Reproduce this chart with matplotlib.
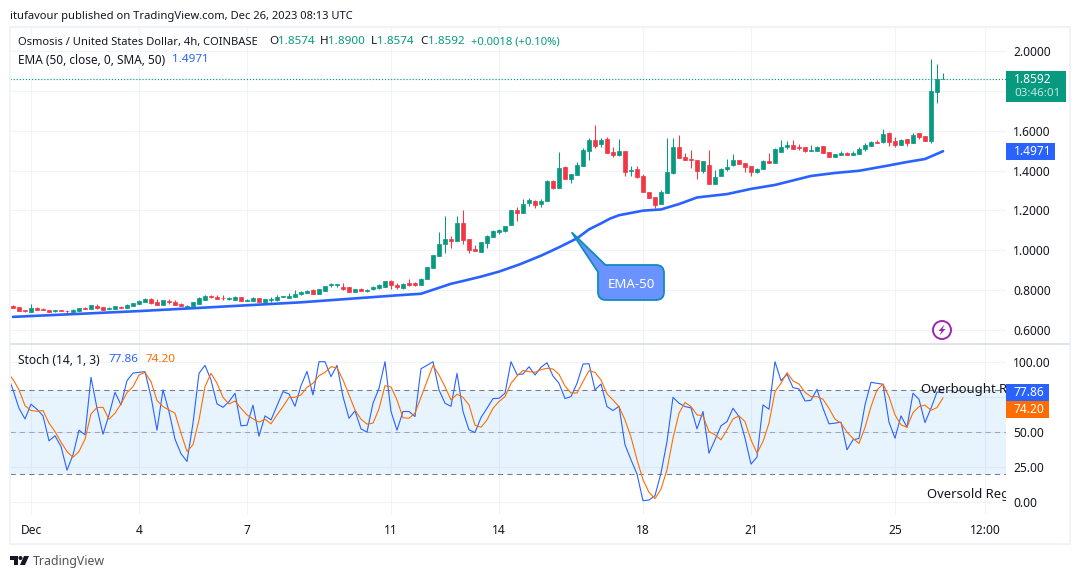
"""
Osmosis / USD 4h chart with EMA-50 and stochastic panes, TradingView look.
Candle and oscillator values are read off the screenshot.
"""
import matplotlib

matplotlib.use("Agg")
import matplotlib.pyplot as plt
from matplotlib.patches import Circle, PathPatch, Polygon, Rectangle
from matplotlib.path import Path
from matplotlib.transforms import Affine2D

W, H = 1080, 579
GREEN = "#089981"
RED = "#f23645"
BLUE = "#2962ff"
ORANGE = "#ff6d00"
GRID = "#f0f3fa"
TEXT = "#131722"
FONT = "Noto Sans"

first_bar = -3
opens = [
    .722, .714, .700, .690, .710, .707, .700, .695, .700, .697, .692, .695, .712, .705, .722, .715,
    .705, .707, .717, .712, .722, .732, .742, .755, .740, .727, .745, .742, .732, .717, .722, .732,
    .752, .772, .767, .762, .757, .752, .765, .747, .747, .759, .742, .752, .752, .765, .762, .767,
    .779, .787, .801, .782, .797, .826, .826, .817, .816, .792, .804, .797, .804, .812, .817, .847,
    .827, .811, .837, .836, .826, .856, .913, .973, 1.031, 1.058, 1.047, 1.137, 1.057, 1.006, .991,
    1.036, 1.067, 1.092, 1.097, 1.127, 1.202, 1.187, 1.237, 1.247, 1.232, 1.247, 1.348, 1.313,
    1.418, 1.358, 1.378, 1.423, 1.498, 1.553, 1.533, 1.558, 1.493, 1.478, 1.498, 1.400, 1.408,
    1.373, 1.292, 1.267, 1.232, 1.287, 1.388, 1.518, 1.468, 1.458, 1.453, 1.398, 1.428, 1.332,
    1.372, 1.408, 1.428, 1.453, 1.438, 1.423, 1.392, 1.408, 1.448, 1.438, 1.493, 1.518, 1.528,
    1.518, 1.518, 1.498, 1.498, 1.523, 1.493, 1.468, 1.478, 1.488, 1.478, 1.483, 1.508, 1.523,
    1.543, 1.543, 1.588, 1.548, 1.528, 1.558, 1.538, 1.588, 1.573, 1.548, 1.794, 1.8574,
]
highs = [
    .725, .714, .700, .730, .715, .710, .700, .702, .700, .702, .704, .710, .715, .725, .730, .715,
    .714, .720, .720, .730, .737, .750, .760, .759, .755, .749, .755, .750, .735, .725, .740, .765,
    .776, .777, .777, .776, .765, .770, .765, .755, .765, .759, .755, .765, .774, .770, .784, .801,
    .796, .801, .804, .806, .821, .837, .831, .836, .816, .806, .809, .807, .821, .829, .846, .851,
    .837, .836, .856, .841, .861, .916, .976, 1.092, 1.172, 1.070, 1.172, 1.202, 1.057, 1.026,
    1.041, 1.077, 1.102, 1.107, 1.122, 1.202, 1.217, 1.257, 1.262, 1.252, 1.257, 1.353, 1.353,
    1.493, 1.423, 1.383, 1.443, 1.513, 1.563, 1.629, 1.563, 1.568, 1.518, 1.558, 1.498, 1.423,
    1.423, 1.383, 1.292, 1.267, 1.302, 1.563, 1.563, 1.579, 1.488, 1.503, 1.453, 1.448, 1.503,
    1.403, 1.413, 1.458, 1.483, 1.453, 1.438, 1.423, 1.413, 1.453, 1.488, 1.513, 1.553, 1.548,
    1.553, 1.533, 1.518, 1.528, 1.523, 1.523, 1.493, 1.483, 1.498, 1.493, 1.498, 1.518, 1.538,
    1.546, 1.553, 1.608, 1.593, 1.568, 1.558, 1.558, 1.588, 1.588, 1.573, 1.960, 1.935, 1.8900,
]
lows = [
    .710, .697, .692, .690, .699, .700, .690, .692, .697, .685, .690, .695, .705, .705, .705, .700,
    .704, .707, .710, .710, .722, .730, .740, .732, .725, .727, .730, .724, .720, .717, .722, .729,
    .750, .760, .755, .750, .750, .750, .747, .745, .745, .742, .735, .742, .745, .765, .760, .765,
    .776, .784, .781, .782, .797, .814, .814, .801, .792, .792, .794, .792, .801, .807, .817, .807,
    .806, .806, .819, .822, .826, .856, .913, .973, .986, 1.011, 1.047, 1.031, .986, .996, .991,
    1.011, 1.065, 1.082, 1.092, 1.127, 1.147, 1.187, 1.222, 1.212, 1.217, 1.247, 1.307, 1.313,
    1.358, 1.338, 1.378, 1.423, 1.453, 1.513, 1.518, 1.488, 1.468, 1.473, 1.373, 1.373, 1.363,
    1.292, 1.262, 1.212, 1.232, 1.287, 1.383, 1.463, 1.453, 1.413, 1.358, 1.387, 1.332, 1.332,
    1.372, 1.398, 1.423, 1.433, 1.392, 1.372, 1.386, 1.408, 1.438, 1.438, 1.493, 1.508, 1.508,
    1.503, 1.493, 1.498, 1.498, 1.488, 1.468, 1.468, 1.478, 1.478, 1.478, 1.483, 1.498, 1.523,
    1.538, 1.538, 1.523, 1.518, 1.528, 1.523, 1.538, 1.558, 1.548, 1.538, 1.739, 1.8574,
]
closes = [
    .712, .697, .695, .710, .700, .702, .690, .700, .697, .694, .700, .710, .707, .725, .712, .700,
    .710, .720, .712, .727, .737, .747, .757, .737, .727, .749, .742, .727, .722, .722, .740, .760,
    .772, .767, .757, .759, .760, .767, .747, .752, .762, .742, .755, .755, .765, .770, .770, .782,
    .792, .797, .782, .806, .821, .829, .829, .806, .792, .806, .797, .802, .817, .826, .846, .824,
    .814, .832, .827, .826, .856, .916, .976, 1.031, 1.057, 1.047, 1.137, 1.052, 1.001, .998, 1.041,
    1.072, 1.097, 1.102, 1.122, 1.202, 1.187, 1.232, 1.252, 1.227, 1.247, 1.348, 1.313, 1.413,
    1.358, 1.383, 1.428, 1.503, 1.553, 1.523, 1.553, 1.488, 1.478, 1.498, 1.393, 1.403, 1.368,
    1.292, 1.262, 1.227, 1.292, 1.393, 1.518, 1.463, 1.453, 1.455, 1.398, 1.448, 1.332, 1.367,
    1.408, 1.418, 1.453, 1.433, 1.418, 1.392, 1.408, 1.448, 1.438, 1.508, 1.518, 1.528, 1.508,
    1.513, 1.498, 1.503, 1.518, 1.488, 1.468, 1.483, 1.488, 1.478, 1.488, 1.508, 1.528, 1.543,
    1.538, 1.583, 1.543, 1.528, 1.553, 1.538, 1.578, 1.568, 1.548, 1.799, 1.858, 1.8592,
]

ema_bars = [-3, 18, 28, 45, 61, 65, 68, 70, 72, 75, 78, 81.5, 85, 88, 91, 93, 95, 96.5, 98, 102, 105,
            108, 111, 113, 116, 120, 124, 130, 134, 138, 143, 146, 149, 152]
ema_vals = [.666, .695, .711, .739, .774, .782, .812, .832, .846, .868, .893, .930, .973, 1.015, 1.060,
            1.105, 1.135, 1.159, 1.176, 1.199, 1.205, 1.232, 1.265, 1.272, 1.282, 1.308, 1.328, 1.373,
            1.388, 1.399, 1.426, 1.443, 1.458, 1.4971]

stoch_first_bar = -4
stoch_k = [
    91.7, 79.9, 66.8, 59.2, 69.7, 66.1, 61.4, 43.6, 47.2, 39.6, 22.7, 33.6, 51.2, 47.9, 88.9, 66.8,
    48.3, 62.1, 78.2, 69.2, 86.5, 91.9, 92.4, 92.9, 75.1, 51.2, 79.9, 64.5, 44.8, 34.4, 28.9, 56.2,
    91.7, 97.4, 87.0, 69.9, 67.5, 71.6, 77.5, 54.3, 54.7, 69.0, 46.9, 61.4, 58.5, 68.7, 78.7, 77.0,
    68.2, 82.9, 93.1, 76.3, 100.0, 100.0, 89.3, 97.4, 75.1, 59.7, 64.9, 52.1, 49.8, 70.4, 81.0,
    100.0, 64.5, 51.2, 64.5, 64.5, 60.9, 95.0, 97.4, 100.0, 79.9, 70.4, 68.2, 91.7, 64.5, 51.4, 49.5,
    60.2, 66.8, 73.7, 73.9, 77.5, 100.0, 90.8, 91.2, 96.4, 90.5, 96.0, 99.3, 89.8, 84.6, 73.7, 75.1,
    84.6, 98.3, 98.6, 79.9, 84.1, 68.0, 65.2, 68.2, 40.8, 30.1, 19.9, 0.9, 1.4, 4.5, 20.6, 43.1, 74.6,
    70.4, 68.0, 67.1, 52.1, 64.5, 34.8, 44.3, 54.3, 57.3, 66.8, 60.9, 45.5, 27.0, 32.0, 69.2, 66.1,
    100.0, 86.5, 91.0, 81.5, 80.6, 72.0, 72.5, 80.3, 66.8, 55.7, 56.2, 56.9, 37.2, 44.3, 45.3, 69.2,
    85.3, 84.6, 83.9, 56.9, 45.5, 61.4, 53.3, 77.5, 73.2, 56.6, 66.8, 78.4, 77.86,
]
stoch_d = [
    92.9, 87.4, 79.9, 68.7, 65.2, 64.7, 65.2, 56.2, 50.2, 42.7, 36.0, 31.8, 36.0, 44.8, 62.8, 67.3,
    67.5, 59.0, 63.3, 69.9, 78.0, 82.2, 90.5, 92.4, 85.8, 72.3, 68.0, 65.6, 63.3, 49.1, 36.0, 40.8,
    58.5, 82.2, 91.7, 84.6, 74.6, 69.9, 72.0, 66.8, 62.1, 59.2, 56.9, 59.0, 55.7, 62.1, 68.0, 74.6,
    74.6, 76.3, 81.8, 84.6, 90.0, 92.4, 96.4, 95.7, 87.0, 76.3, 65.6, 59.0, 55.5, 56.2, 66.4, 82.9,
    82.0, 72.7, 60.0, 59.7, 63.3, 74.6, 85.8, 97.4, 90.5, 82.2, 72.7, 76.8, 74.6, 69.2, 54.7, 53.3,
    58.5, 66.8, 71.6, 75.1, 84.6, 89.8, 93.8, 92.9, 92.4, 94.3, 95.3, 94.8, 91.0, 82.7, 77.7, 77.7,
    85.8, 93.6, 92.4, 87.0, 77.0, 72.7, 68.0, 58.5, 46.2, 30.1, 15.9, 6.9, 2.4, 9.2, 23.0, 45.5, 63.3,
    70.9, 68.0, 62.1, 61.4, 50.2, 47.9, 44.3, 51.4, 59.2, 61.4, 57.3, 44.3, 34.8, 43.1, 56.2, 78.7,
    84.6, 92.2, 86.3, 84.1, 78.2, 75.1, 75.1, 73.2, 66.8, 59.0, 56.2, 49.8, 45.3, 41.7, 53.1, 68.0,
    79.9, 84.1, 75.1, 62.1, 55.0, 53.3, 63.7, 68.0, 69.0, 65.4, 67.3, 74.20,
]

price_ticks = [0.6, 0.8, 1.0, 1.2, 1.4, 1.6, 1.8, 2.0]
price_labels = ["0.6000", "0.8000", "1.0000", "1.2000", "1.4000", "1.6000", "", "2.0000"]
stoch_ticks = [0, 25, 50, 75, 100]
stoch_labels = ["0.00", "25.00", "50.00", "", "100.00"]
time_ticks = [0, 18, 36, 60, 78, 102, 120, 144, 159]
time_labels = ["Dec", "4", "7", "11", "14", "18", "21", "25", "12:00"]

plt.rcParams["font.family"] = [FONT, "DejaVu Sans"]
fig = plt.figure(figsize=(W / 100, H / 100), dpi=100, facecolor="white")
# screenshot pixel space, y down, for the chrome around the panes
px = Affine2D().scale(1, -1).translate(0, H)


def pane(left, top, right, bottom):
    return fig.add_axes([left / W, 1 - bottom / H, (right - left) / W, (bottom - top) / H])


def label(x, y, s, color=TEXT, size=8.6, **kw):
    kw.setdefault("va", "center")
    fig.text(x, y, s, color=color, fontsize=size, transform=px, **kw)


ax = pane(10, 28, 1006, 343)
ax2 = pane(10, 345, 1006, 515)

for a in (ax, ax2):
    a.set_xlim(-3.5, 162.5)
    a.set_xticks(time_ticks)
    a.grid(True, color=GRID, lw=0.75)
    a.set_axisbelow(True)
    a.yaxis.tick_right()
    a.tick_params(length=0, labelsize=8.6, labelcolor=TEXT)
    for s in a.spines.values():
        s.set_visible(False)

# price pane
ax.set_ylim(0.5349, 2.1154)
ax.set_yticks(price_ticks, price_labels)
ax.tick_params(labelbottom=False)
ax.tick_params(axis="y", pad=5)

bars = list(range(first_bar, first_bar + len(opens)))
colors = [GREEN if c >= o else RED for o, c in zip(opens, closes)]
ax.vlines(bars, lows, highs, colors=colors, lw=0.75, zorder=2)
ax.bar(bars, [c - o for o, c in zip(opens, closes)], bottom=opens, width=0.72, color=colors,
       edgecolor=colors, lw=0.5, zorder=3)
ax.plot(ema_bars, ema_vals, color=BLUE, lw=1.9, zorder=4, solid_capstyle="round", solid_joinstyle="round")
ax.axhline(closes[-1], color=GREEN, lw=0.85, ls=(0, (1, 1.6)), zorder=2)

# stochastic pane
ax2.set_ylim(-9.27, 111.9)
ax2.set_yticks(stoch_ticks, stoch_labels)
ax2.set_xticklabels(time_labels)
ax2.tick_params(axis="y", pad=5)
ax2.tick_params(axis="x", pad=6.8)
ax2.axhspan(20, 80, color="#2196f3", alpha=0.1, lw=0, zorder=1)
for level, alpha in ((80, 1), (50, 0.6), (20, 1)):
    ax2.axhline(level, color="#787b86", lw=0.75, ls=(0, (5, 4)), alpha=alpha, zorder=2)
k_bars = list(range(stoch_first_bar, stoch_first_bar + len(stoch_k)))
ax2.plot(k_bars, stoch_k, color=BLUE, lw=0.8, zorder=3)
ax2.plot(k_bars, stoch_d, color=ORANGE, lw=0.8, zorder=4)
# both notes run into the price scale in the screenshot, so only this much shows
ax2.text(148.4, 80, "Overbought R", color=TEXT, fontsize=9.4, va="center", clip_on=True, zorder=5)
ax2.text(149.4, 5.5, "Oversold Reg", color=TEXT, fontsize=9.4, va="center", clip_on=True, zorder=5)

# outer frame and pane divider
fig.add_artist(Rectangle((10, 27), 1060, 517, transform=px, fill=False, ec=GRID, lw=1.4))
fig.add_artist(Rectangle((10, 343), 1060, 1.5, transform=px, fc="#e0e3eb", lw=0))

# header and legend text
label(10, 16, "itufavour published on TradingView.com, Dec 26, 2023 08:13 UTC", size=8.05)
label(18, 42, "Osmosis / United States Dollar, 4h, COINBASE", size=8.05)
for x, s, c in [(269, "O", TEXT), (278, "1.8574", GREEN), (320, "H", TEXT), (328, "1.8900", GREEN),
                (371, "L", TEXT), (377, "1.8574", GREEN), (420, "C", TEXT), (428, "1.8592", GREEN)]:
    label(x, 42, s, color=c, size=8.4)
label(471, 42, "+0.0018 (+0.10%)", color=GREEN, size=8.1)
label(18, 60, "EMA (50, close, 0, SMA, 50)", size=8.5)
label(172, 60, "1.4971", color=BLUE, size=8.4)
label(18, 360, "Stoch (14, 1, 3)")
label(108.5, 360, "77.86", color=BLUE, size=8.4)
label(145, 360, "74.20", color=ORANGE, size=8.4)

# price scale tags
fig.add_artist(Rectangle((1006, 71), 60, 31, transform=px, fc=GREEN, lw=0))
label(1014, 79.5, "1.8592", color="white", fontweight="medium")
label(1014, 93.5, "03:46:01", color="#c4e8df", size=8.3)
fig.add_artist(Rectangle((1006, 143), 49, 17, transform=px, fc=BLUE, lw=0))
label(1014, 151.5, "1.4971", color="white")
fig.add_artist(Rectangle((1006, 384), 43, 17, transform=px, fc=BLUE, lw=0))
label(1014, 392.5, "77.86", color="white")
fig.add_artist(Rectangle((1006, 401), 43, 17, transform=px, fc=ORANGE, lw=0))
label(1014, 409.5, "74.20", color="white")

# EMA-50 callout: rounded box with a tail to the line
verts = [(571.7, 232.3), (605.5, 265), (656, 265), (664, 265), (664, 273), (664, 292), (664, 300),
         (656, 300), (606, 300), (598, 300), (598, 292), (598, 272), (571.7, 232.3)]
codes = [Path.MOVETO, Path.LINETO, Path.LINETO, Path.CURVE3, Path.CURVE3, Path.LINETO, Path.CURVE3,
         Path.CURVE3, Path.LINETO, Path.CURVE3, Path.CURVE3, Path.LINETO, Path.CLOSEPOLY]
fig.add_artist(PathPatch(Path(verts, codes), transform=px, fc="#6b93ff", ec="#0f8dbb", lw=1.3))
label(631, 284, "EMA-50", color="white", size=9.6, ha="center")

# lightning mark
fig.add_artist(Circle((942, 330), 9, transform=px, fill=False, ec="#9c27b0", lw=1.4))
fig.add_artist(Polygon([(944.5, 324.5), (938.5, 331), (941.5, 331), (939.5, 335.5), (945.5, 329),
                        (942.5, 329)], transform=px, fc="#9c27b0", lw=0))

# TradingView logo
fig.add_artist(Polygon([(10, 556), (18, 556), (18, 565), (14, 565), (14, 560), (10, 560)],
                       transform=px, fc=TEXT, lw=0))
fig.add_artist(Circle((20.5, 558), 2, transform=px, fc=TEXT, lw=0))
fig.add_artist(Polygon([(24, 556), (29, 556), (25, 565), (20, 565)], transform=px, fc=TEXT, lw=0))
label(33, 561, "TradingView", color="#50535e", size=8.9)

fig.savefig("out.png", dpi=100)
